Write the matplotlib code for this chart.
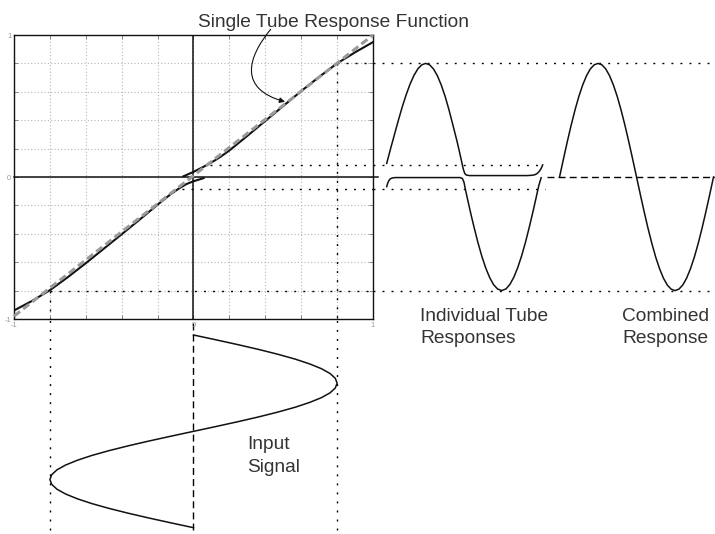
import numpy as np
import matplotlib
matplotlib.use('Agg')
import matplotlib.pyplot as plt
from matplotlib.patches import FancyArrowPatch
from matplotlib.path import Path

plt.rcParams['font.family'] = ['Liberation Sans', 'DejaVu Sans']

# ---- single tube response (transfer curve), two branches ----
upper_x = [-0.056, 0.0, 0.05, 0.1, 0.15, 0.2, 0.3, 0.4, 0.5, 0.6, 0.7, 0.8, 0.9, 1.0]
upper_y = [0.005, 0.036, 0.068, 0.102, 0.142, 0.187, 0.29, 0.395, 0.5, 0.605, 0.705, 0.8, 0.878, 0.95]
lower_x = [-1.0, -0.9, -0.8, -0.7, -0.6, -0.5, -0.4, -0.3, -0.2, -0.128, -0.08, -0.04, 0.0, 0.056]
lower_y = [-0.94, -0.873, -0.797, -0.705, -0.607, -0.505, -0.403, -0.3, -0.195, -0.122, -0.08, -0.05, -0.03, -0.008]
ideal_x = [-1.0, 1.0]
ideal_y = [-0.98, 1.0]

# ---- input signal / combined response, one period sampled every 1/40 ----
phase = np.linspace(0, 1, 41)
input_sig = [0.0, 0.125, 0.247, 0.363, 0.470, 0.566, 0.647, 0.713, 0.761, 0.790,
             0.800, 0.790, 0.761, 0.713, 0.647, 0.566, 0.470, 0.363, 0.247, 0.125,
             0.0, -0.125, -0.247, -0.363, -0.470, -0.566, -0.647, -0.713, -0.761, -0.790,
             -0.800, -0.790, -0.761, -0.713, -0.647, -0.566, -0.470, -0.363, -0.247, -0.125, 0.0]
combined = [0.0, 0.125, 0.247, 0.363, 0.470, 0.566, 0.647, 0.713, 0.761, 0.790,
            0.800, 0.790, 0.761, 0.713, 0.647, 0.566, 0.470, 0.363, 0.247, 0.125,
            0.0, -0.125, -0.247, -0.363, -0.470, -0.566, -0.647, -0.713, -0.761, -0.790,
            -0.800, -0.790, -0.761, -0.713, -0.647, -0.566, -0.470, -0.363, -0.247, -0.125, 0.0]
comb_start, comb_len = 1.108, 0.987

# ---- individual tube responses (time in periods) ----
tube_a_t = [0.0, 0.025, 0.05, 0.075, 0.1, 0.125, 0.15, 0.175, 0.2, 0.225, 0.25, 0.275, 0.3,
            0.325, 0.35, 0.375, 0.4, 0.425, 0.45, 0.465, 0.48, 0.49, 0.5, 0.51, 0.53, 0.6,
            0.7, 0.8, 0.9, 0.93, 0.95, 0.965, 0.978, 0.99, 1.0]
tube_a = [0.096, 0.20, 0.30, 0.40, 0.495, 0.58, 0.655, 0.716, 0.762, 0.790, 0.800, 0.790, 0.761,
          0.713, 0.647, 0.566, 0.470, 0.363, 0.255, 0.185, 0.11, 0.06, 0.025, 0.014, 0.01, 0.01,
          0.01, 0.01, 0.01, 0.012, 0.016, 0.025, 0.04, 0.06, 0.085]
tube_b_t = [0.0, 0.006, 0.013, 0.022, 0.035, 0.055, 0.2, 0.35, 0.47, 0.485, 0.495, 0.505, 0.52,
            0.54, 0.56, 0.585, 0.61, 0.635, 0.66, 0.685, 0.71, 0.737, 0.765, 0.79, 0.815, 0.84,
            0.865, 0.89, 0.915, 0.94, 0.96, 0.975, 0.99]
tube_b = [-0.068, -0.045, -0.027, -0.014, -0.007, -0.004, -0.004, -0.004, -0.004, -0.01, -0.035,
          -0.09, -0.165, -0.262, -0.354, -0.462, -0.559, -0.641, -0.708, -0.758, -0.788, -0.8,
          -0.788, -0.756, -0.706, -0.638, -0.555, -0.458, -0.349, -0.233, -0.135, -0.06, -0.005]

peak = 0.8
bias_hi, bias_lo = 0.085, -0.085

W, H = 715, 534
fig = plt.figure(figsize=(W / 100, H / 100), dpi=100)


def box(l, t, r, b):
    return [l / W, 1 - b / H, (r - l) / W, (b - t) / H]


axr = fig.add_axes(box(373, 35, 715, 319))
axb = fig.add_axes(box(14, 319, 373, 534))
ax = fig.add_axes(box(14, 35, 373, 319))

dot = dict(color='k', lw=1.0, ls=(0, (1.4, 5.1)))
dash = dict(color='k', lw=1.0, ls=(0, (5, 3)))
ink = '#111111'
txt = '#333333'

# ---- transfer curve panel ----
ax.set_xlim(-1, 1)
ax.set_ylim(-1, 1)
ticks = np.round(np.arange(-1, 1.01, 0.2), 1)
labs = ['-1' if v == -1 else '0' if v == 0 else '1' if v == 1 else '' for v in ticks]
ax.set_xticks(ticks)
ax.set_xticklabels(labs)
ax.set_yticks(ticks)
ax.set_yticklabels(labs)
ax.tick_params(direction='in', length=3, width=0.6, color='#777777', labelsize=5.5,
               labelcolor='#999999', pad=2, top=True, right=True)
ax.grid(True, color='#b5b5b5', ls=(0, (1, 2)), lw=0.8)
ax.set_axisbelow(True)
for s in ax.spines.values():
    s.set_linewidth(1.0)
    s.set_color(ink)
ax.plot([-1, 1.03], [0, 0], color=ink, lw=1.1, clip_on=False)
ax.axvline(0, color=ink, lw=1.1)

ax.plot([peak, 1], [peak, peak], **dot)
ax.plot([-peak, 1], [-peak, -peak], **dot)
ax.plot([peak, peak], [peak, -1], **dot)
ax.plot([-peak, -peak], [-peak, -1], **dot)
ax.plot([0.09, 1], [bias_hi, bias_hi], **dot)
ax.plot([-0.065, 1], [bias_lo, bias_lo], **dot)

ax.plot(lower_x, lower_y, color=ink, lw=1.5)
ax.plot(upper_x, upper_y, color=ink, lw=1.5)
ax.plot(ideal_x, ideal_y, color='#9a9a9a', lw=2.2, ls=(0, (2.5, 1.3)), zorder=4, clip_on=False)

# connector from label to curve
verts = [(0.43, 1.04), (0.30, 0.84), (0.25, 0.62), (0.51, 0.53)]
codes = [Path.MOVETO, Path.CURVE4, Path.CURVE4, Path.CURVE4]
arr = FancyArrowPatch(path=Path(verts, codes), arrowstyle='-|>', mutation_scale=8,
                      color=ink, lw=0.8, transform=ax.transData, clip_on=False)
ax.add_patch(arr)

# ---- right panel: tube responses and combined response ----
axr.set_xlim(-0.0878, 2.1045)
axr.set_ylim(-1, 1)
axr.axis('off')
axr.axhline(peak, **dot)
axr.axhline(-peak, **dot)
axr.plot([-0.0878, 0.983], [bias_hi, bias_hi], **dot)
axr.plot([-0.0878, 1.015], [bias_lo, bias_lo], **dot)
axr.plot([1.03, 2.1045], [0, 0], **dash)
axr.plot(tube_a_t, tube_a, color=ink, lw=1.1)
axr.plot(tube_b_t, tube_b, color=ink, lw=1.1)
axr.plot(comb_start + comb_len * phase, combined, color=ink, lw=1.1)

# ---- bottom panel: input signal ----
axb.set_xlim(-1, 1)
axb.set_ylim(1.0327, -0.083)
axb.axis('off')
axb.axvline(peak, ymin=0.02, ymax=1, **dot)
axb.axvline(-peak, ymin=0.02, ymax=1, **dot)
axb.axvline(0, ymin=0.02, ymax=1, **dash)
axb.plot(input_sig, phase, color=ink, lw=1.1)

# ---- labels ----
fs = 13.8
fig.text(333.5 / W, 1 - 27 / H, 'Single Tube Response Function', ha='center', va='baseline',
         fontsize=fs, color=txt)
fig.text(420 / W, 1 - 321 / H, 'Individual Tube', ha='left', va='baseline', fontsize=fs, color=txt)
fig.text(420 / W, 1 - 343 / H, 'Responses', ha='left', va='baseline', fontsize=fs, color=txt)
fig.text(622 / W, 1 - 321 / H, 'Combined', ha='left', va='baseline', fontsize=fs, color=txt)
fig.text(622 / W, 1 - 343 / H, 'Response', ha='left', va='baseline', fontsize=fs, color=txt)
fig.text(247 / W, 1 - 449 / H, 'Input', ha='left', va='baseline', fontsize=fs, color=txt)
fig.text(247 / W, 1 - 472 / H, 'Signal', ha='left', va='baseline', fontsize=fs, color=txt)

fig.savefig('out.png', dpi=100)
